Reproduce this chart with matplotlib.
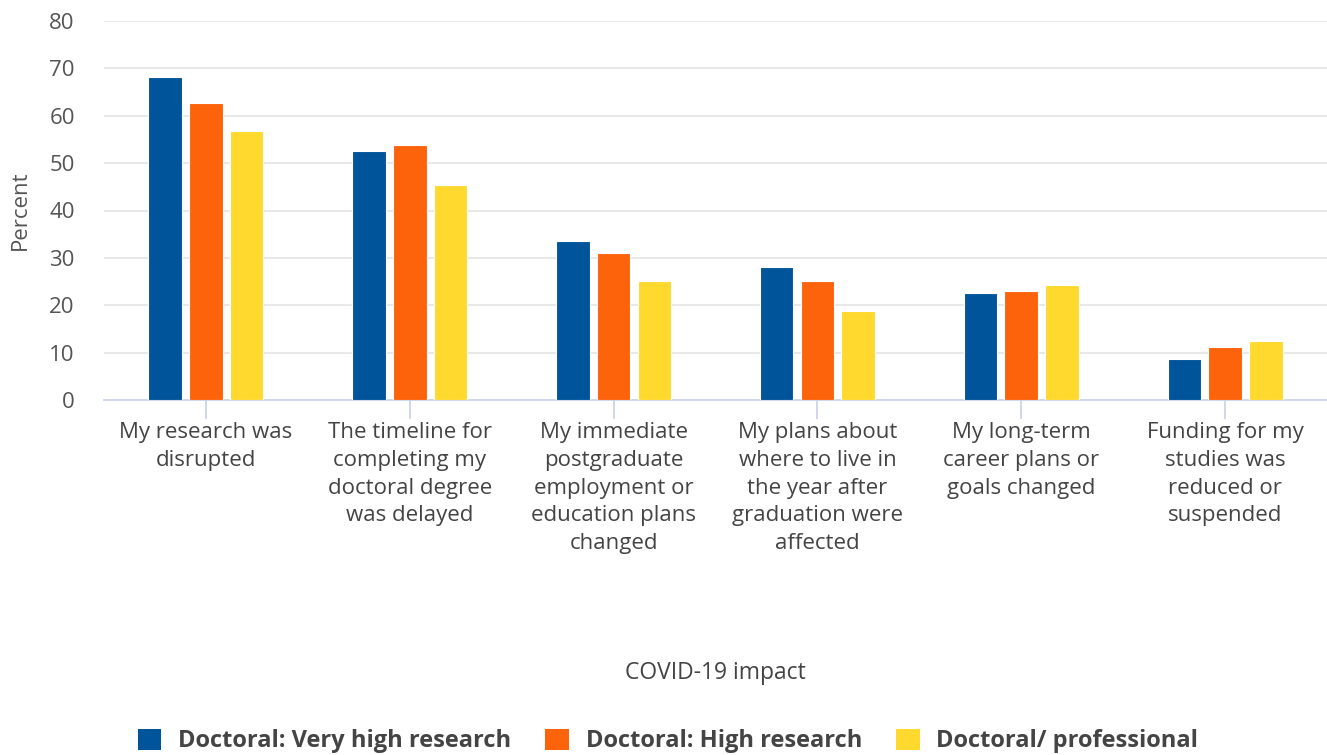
import matplotlib.pyplot as plt
import numpy as np
from matplotlib.patches import Patch

plt.rcParams['font.family'] = ['Open Sans', 'DejaVu Sans']

categories = ["My research was\ndisrupted",
              "The timeline for\ncompleting my\ndoctoral degree\nwas delayed",
              "My immediate\npostgraduate\nemployment or\neducation plans\nchanged",
              "My plans about\nwhere to live in\nthe year after\ngraduation were\naffected",
              "My long-term\ncareer plans or\ngoals changed",
              "Funding for my\nstudies was\nreduced or\nsuspended"]
series_names = ["Doctoral: Very high research", "Doctoral: High research", "Doctoral/ professional"]
very_high = [68.2, 52.6, 33.6, 28.1, 22.6, 8.6]
high = [62.7, 53.9, 31.0, 25.1, 23.0, 11.2]
professional = [56.8, 45.4, 25.1, 18.8, 24.3, 12.4]
colors = ["#00549a", "#fc630a", "#ffd92e"]

fig = plt.figure(figsize=(13.27, 7.55), dpi=100)
ax = fig.add_axes([104 / 1327, 355 / 755, 1223 / 1327, 379 / 755])

x = np.arange(len(categories))
for i, vals in enumerate([very_high, high, professional]):
    ax.bar(x + (i - 1) * 0.2, vals, width=0.165, color=colors[i],
           edgecolor="white", linewidth=0.8, zorder=3)

ax.set_xlim(-0.5, len(categories) - 0.5)
ax.set_ylim(0, 80)
ax.set_yticks(range(0, 81, 10))
ax.grid(axis="y", color="#e6e6e6", linewidth=1.3, zorder=0)
for s in ["top", "right", "left"]:
    ax.spines[s].set_visible(False)
ax.spines["bottom"].set_color("#ccd6eb")
ax.spines["bottom"].set_linewidth(1.3)
ax.tick_params(axis="y", length=0, pad=21, labelsize=16, labelcolor="#555555")
ax.tick_params(axis="x", length=14, width=1.3, color="#ccd6eb", pad=2,
               labelsize=16, labelcolor="#444444")
ax.set_xticks(x)
ax.set_xticklabels(categories, linespacing=1.42, va="top")
ax.set_ylabel("Percent", fontsize=16, color="#555555")
ax.yaxis.set_label_coords(-0.06, 0.5)

fig.text(715 / 1327, 1 - 673 / 755, "COVID-19 impact", ha="center", va="center",
         fontsize=16.5, color="#444444")

handles = [Patch(facecolor=c, edgecolor="none") for c in colors]
fig.legend(handles, series_names, loc="center", bbox_to_anchor=(668 / 1327, 1 - 741 / 755),
           ncol=3, frameon=False, prop={"weight": "bold", "size": 17},
           labelcolor="#444444", handlelength=1.0, handleheight=1.0,
           handletextpad=0.7, columnspacing=1.45)

fig.savefig("out.png", dpi=100)
